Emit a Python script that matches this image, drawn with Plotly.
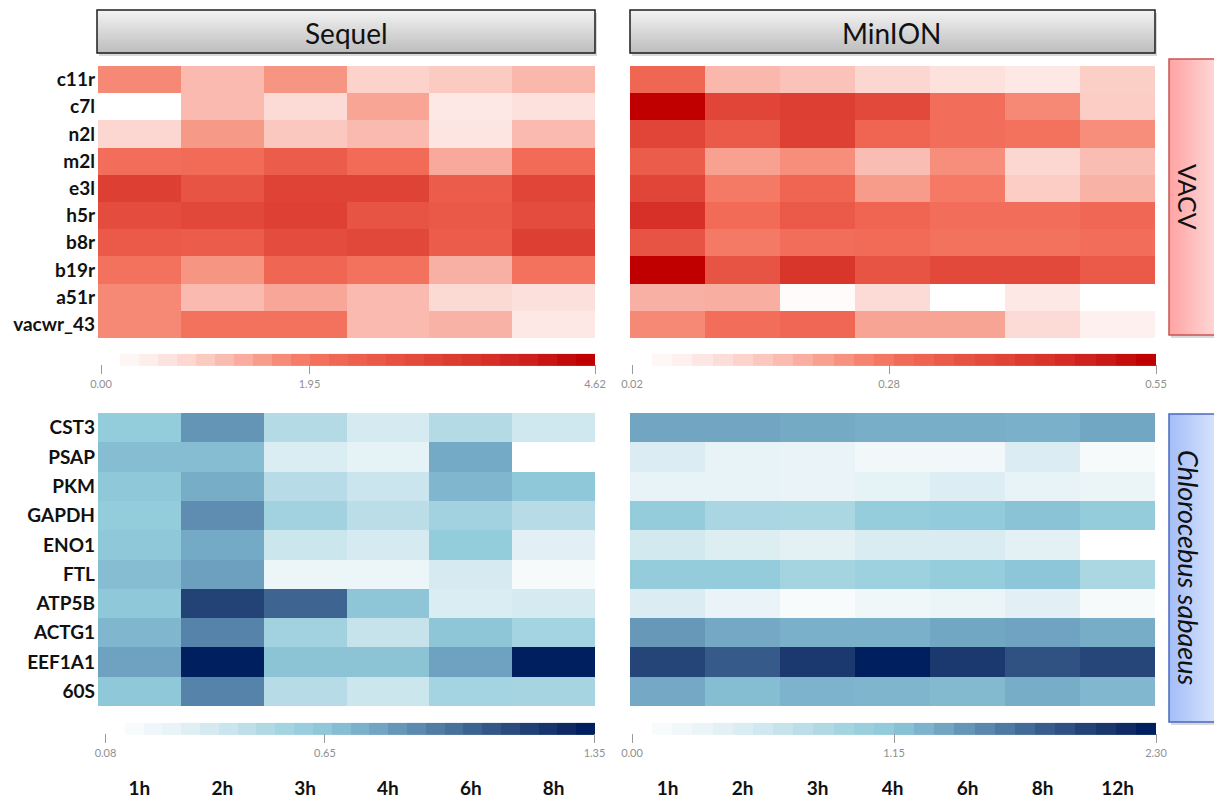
import plotly.graph_objects as go

W, H = 1214, 798

# ---------------- data ----------------
vacv_genes = ['c11r', 'c7l', 'n2l', 'm2l', 'e3l', 'h5r', 'b8r', 'b19r', 'a51r', 'vacwr_43']
host_genes = ['CST3', 'PSAP', 'PKM', 'GAPDH', 'ENO1', 'FTL', 'ATP5B', 'ACTG1', 'EEF1A1', '60S']
sequel_times = ['1h', '2h', '3h', '4h', '6h', '8h']
minion_times = ['1h', '2h', '3h', '4h', '6h', '8h', '12h']

sequel_vacv = [
    [1.68, 1.13, 1.56, 0.82, 0.92, 1.17],
    [0.00, 1.13, 0.68, 1.38, 0.47, 0.59],
    [0.76, 1.52, 0.96, 1.13, 0.51, 1.13],
    [2.06, 2.14, 2.48, 2.14, 1.33, 2.14],
    [3.29, 2.70, 3.18, 3.18, 2.48, 3.12],
    [2.91, 3.02, 3.23, 2.70, 2.59, 2.91],
    [2.56, 2.48, 2.91, 3.02, 2.48, 3.29],
    [2.00, 1.56, 2.27, 2.00, 1.25, 2.00],
    [1.68, 1.13, 1.37, 1.13, 0.70, 0.60],
    [1.68, 2.00, 2.00, 1.13, 1.23, 0.47],
]
minion_vacv = [
    [0.312, 0.176, 0.158, 0.119, 0.098, 0.082, 0.137],
    [0.550, 0.399, 0.415, 0.388, 0.291, 0.244, 0.140],
    [0.399, 0.339, 0.410, 0.315, 0.291, 0.283, 0.238],
    [0.334, 0.210, 0.238, 0.166, 0.238, 0.119, 0.166],
    [0.399, 0.270, 0.315, 0.218, 0.272, 0.140, 0.184],
    [0.453, 0.299, 0.339, 0.315, 0.291, 0.291, 0.307],
    [0.356, 0.270, 0.291, 0.299, 0.283, 0.283, 0.291],
    [0.550, 0.356, 0.442, 0.356, 0.388, 0.388, 0.339],
    [0.186, 0.189, 0.030, 0.111, 0.020, 0.082, 0.020],
    [0.244, 0.291, 0.307, 0.205, 0.205, 0.111, 0.062],
]
sequel_host = [
    [0.62, 0.85, 0.48, 0.33, 0.48, 0.36],
    [0.69, 0.69, 0.31, 0.25, 0.77, 0.08],
    [0.64, 0.76, 0.46, 0.38, 0.72, 0.64],
    [0.62, 0.88, 0.55, 0.45, 0.55, 0.46],
    [0.64, 0.77, 0.37, 0.33, 0.62, 0.27],
    [0.69, 0.81, 0.21, 0.21, 0.33, 0.14],
    [0.64, 1.18, 1.04, 0.65, 0.31, 0.33],
    [0.72, 0.92, 0.55, 0.40, 0.65, 0.54],
    [0.80, 1.35, 0.66, 0.66, 0.80, 1.35],
    [0.64, 0.92, 0.46, 0.37, 0.54, 0.53],
]
minion_host = [
    [1.38, 1.38, 1.35, 1.32, 1.32, 1.31, 1.37],
    [0.45, 0.32, 0.29, 0.18, 0.18, 0.45, 0.12],
    [0.32, 0.32, 0.29, 0.33, 0.44, 0.32, 0.28],
    [1.07, 0.89, 0.87, 1.06, 1.10, 1.17, 1.07],
    [0.54, 0.43, 0.37, 0.47, 0.48, 0.37, 0.00],
    [1.07, 1.07, 0.92, 0.98, 1.06, 1.15, 0.87],
    [0.45, 0.29, 0.09, 0.21, 0.28, 0.38, 0.12],
    [1.46, 1.36, 1.31, 1.31, 1.37, 1.39, 1.33],
    [2.01, 1.86, 2.10, 2.30, 2.10, 1.92, 2.00],
    [1.36, 1.22, 1.29, 1.27, 1.24, 1.33, 1.25],
]

sequel_vacv_ticks = [0.00, 1.95, 4.62]
minion_vacv_ticks = [0.02, 0.28, 0.55]
sequel_host_ticks = [0.08, 0.65, 1.35]
minion_host_ticks = [0.00, 1.15, 2.30]

# ---------------- colour ramps ----------------
RED_STEPS = ['#FFFFFF', '#FEF7F6', '#FDF0EE', '#FDE8E5', '#FCDFDA', '#FCD5CE', '#FBCAC1',
             '#FABDB3', '#F9B0A4', '#F8A393', '#F79583', '#F68672', '#F57A66', '#F26E5A',
             '#EF6653', '#EC5C4A', '#E85443', '#E44C3D', '#E04537', '#DC3D31', '#D8352B',
             '#D42C25', '#CF231F', '#CA1817', '#C40C0B', '#C00000']
BLUE_STEPS = ['#FFFFFF', '#F8FBFC', '#F2F8FA', '#EBF5F8', '#E3F1F5', '#DAEDF2', '#D0E8EF',
              '#C6E3EC', '#BBDEE8', '#B0D9E4', '#A5D4E1', '#9BCFDE', '#92CBDB', '#88C0D4',
              '#7DB3CC', '#71A5C2', '#6596B7', '#5987AD', '#4E79A2', '#436B97', '#385D8C',
              '#2E5082', '#234377', '#19366D', '#0F2A65', '#001F5F']


def hex2rgb(h):
    h = h.lstrip('#')
    return [int(h[i:i + 2], 16) for i in (0, 2, 4)]


def rgb2hex(c):
    return '#%02X%02X%02X' % tuple(int(round(v)) for v in c)


def panel_scale(steps, ticks):
    lo, mid, hi = ticks
    n = len(steps)
    out = []
    for i, c in enumerate(steps):
        g = i / (n - 1)
        v = lo + 2 * g * (mid - lo) if g <= 0.5 else mid + 2 * (g - 0.5) * (hi - mid)
        out.append([(v - lo) / (hi - lo), c])
    out[0][0] = 0.0
    out[-1][0] = 1.0
    return out


def color_at(scale, p):
    for (p0, c0), (p1, c1) in zip(scale[:-1], scale[1:]):
        if p <= p1:
            t = 0 if p1 == p0 else (p - p0) / (p1 - p0)
            a, b = hex2rgb(c0), hex2rgb(c1)
            return rgb2hex([a[k] + (b[k] - a[k]) * t for k in range(3)])
    return scale[-1][1]


def stepped(scale, n=26):
    out = []
    for k in range(n):
        c = color_at(scale, k / (n - 1))
        out.append([k / n, c])
        out.append([(k + 1) / n, c])
    return out


FONT = 'Lato'

fig = go.Figure()

panels = [
    # z, genes, times, ticks, steps, axis suffix, colorbar centre px (x, y), colorbar len px
    (sequel_vacv, vacv_genes, sequel_times, sequel_vacv_ticks, RED_STEPS, '', (348, 372), 494),
    (minion_vacv, vacv_genes, minion_times, minion_vacv_ticks, RED_STEPS, '2', (894, 372), 524),
    (sequel_host, host_genes, sequel_times, sequel_host_ticks, BLUE_STEPS, '3', (350, 741), 489),
    (minion_host, host_genes, minion_times, minion_host_ticks, BLUE_STEPS, '4', (894, 741), 524),
]

for z, genes, times, ticks, steps, ax, (cx, cy), clen in panels:
    cont = panel_scale(steps, ticks)
    fig.add_trace(go.Heatmap(
        z=z, x=times, y=genes, colorscale=cont, zmin=ticks[0], zmax=ticks[2],
        showscale=False, xaxis='x' + ax, yaxis='y' + ax, xgap=0, ygap=0,
    ))
    fig.add_trace(go.Scatter(
        x=[None], y=[None], mode='markers', showlegend=False, hoverinfo='skip',
        xaxis='x' + ax, yaxis='y' + ax,
        marker=dict(
            color=[ticks[0]], cmin=ticks[0], cmax=ticks[2], colorscale=stepped(cont),
            showscale=True,
            colorbar=dict(
                orientation='h', x=cx / W, xanchor='center', y=1 - cy / H, yanchor='middle',
                len=clen, lenmode='pixels', thickness=12, thicknessmode='pixels',
                outlinewidth=0, xpad=0, ypad=0,
                tickvals=ticks, ticktext=['%.2f' % t for t in ticks],
                ticks='outside', ticklen=9, tickwidth=1, tickcolor='#9a9a9a',
                tickfont=dict(family=FONT, size=11, color='#8f8f8f'),
            ),
        ),
    ))


def px_x(a, b):
    return [a / W, b / W]


def px_y(top, bottom):
    return [1 - bottom / H, 1 - top / H]


axis_common = dict(showgrid=False, zeroline=False, showline=False, ticks='', type='category')
ytick = dict(family=FONT, size=19, color='#111111', weight='bold')
xtick = dict(family=FONT, size=19, color='#111111', weight='bold')

layout_axes = dict(
    xaxis=dict(domain=px_x(98, 595), anchor='y', showticklabels=False, **axis_common),
    yaxis=dict(domain=px_y(66, 338), anchor='x', autorange='reversed', tickfont=ytick,
               ticklabelstandoff=2, **axis_common),
    xaxis2=dict(domain=px_x(630, 1155), anchor='y2', showticklabels=False, **axis_common),
    yaxis2=dict(domain=px_y(66, 338), anchor='x2', autorange='reversed', showticklabels=False,
                **axis_common),
    xaxis3=dict(domain=px_x(98, 595), anchor='y3', side='bottom', tickfont=xtick,
                ticklabelstandoff=69, **axis_common),
    yaxis3=dict(domain=px_y(413, 706), anchor='x3', autorange='reversed', tickfont=ytick,
                ticklabelstandoff=2, **axis_common),
    xaxis4=dict(domain=px_x(630, 1155), anchor='y4', side='bottom', tickfont=xtick,
                ticklabelstandoff=69, **axis_common),
    yaxis4=dict(domain=px_y(413, 706), anchor='x4', autorange='reversed', showticklabels=False,
                **axis_common),
)

shapes = []
annotations = []


def gradient_box(x0, x1, y0, y1, c_start, c_end, border, vertical, n=30, shadow=True):
    a, b = hex2rgb(c_start), hex2rgb(c_end)
    if shadow:
        shapes.append(dict(type='rect', xref='paper', yref='paper',
                           x0=(x0 + 2) / W, x1=(x1 + 2) / W, y0=1 - (y1 + 3) / H, y1=1 - (y0 + 3) / H,
                           fillcolor='rgba(0,0,0,0.15)', line=dict(width=0), layer='below'))
    for i in range(n):
        t = i / (n - 1)
        col = rgb2hex([a[k] + (b[k] - a[k]) * t for k in range(3)])
        if vertical:
            yy0 = y0 + (y1 - y0) * i / n
            yy1 = y0 + (y1 - y0) * (i + 1) / n + 0.6
            shapes.append(dict(type='rect', xref='paper', yref='paper', x0=x0 / W, x1=x1 / W,
                               y0=1 - yy1 / H, y1=1 - yy0 / H, fillcolor=col,
                               line=dict(width=0), layer='below'))
        else:
            xx0 = x0 + (x1 - x0) * i / n
            xx1 = x0 + (x1 - x0) * (i + 1) / n + 0.6
            shapes.append(dict(type='rect', xref='paper', yref='paper', x0=xx0 / W, x1=xx1 / W,
                               y0=1 - y1 / H, y1=1 - y0 / H, fillcolor=col,
                               line=dict(width=0), layer='below'))
    shapes.append(dict(type='rect', xref='paper', yref='paper', x0=x0 / W, x1=x1 / W,
                       y0=1 - y1 / H, y1=1 - y0 / H, fillcolor='rgba(0,0,0,0)',
                       line=dict(color=border, width=1.5), layer='below'))


def label(text, x, y, size, angle=0):
    annotations.append(dict(text=text, x=x / W, y=1 - y / H, xref='paper', yref='paper',
                            xanchor='center', yanchor='middle', showarrow=False,
                            textangle=angle, font=dict(family=FONT, size=size, color='#111111')))


# column headers
gradient_box(97, 595, 10, 53, '#F3F3F3', '#BDBDBD', '#1e1e1e', vertical=True)
gradient_box(630, 1155, 10, 53, '#F3F3F3', '#BDBDBD', '#1e1e1e', vertical=True)
label('Sequel', 346, 33, 28)
label('MinION', 892, 33, 28)

# row-group labels
gradient_box(1169, 1232, 59, 335, '#FFA4A4', '#FFE8E8', '#C85454', vertical=False)
gradient_box(1169, 1232, 414, 722, '#A4BEF8', '#E8EFFF', '#4A68C0', vertical=False)
label('VACV', 1188, 197, 25, 90)
label('<i>Chlorocebus sabaeus</i>', 1189, 567, 27, 90)

fig.update_layout(
    width=W, height=H, margin=dict(l=0, r=0, t=0, b=0),
    paper_bgcolor='white', plot_bgcolor='white',
    showlegend=False, shapes=shapes, annotations=annotations,
    **layout_axes,
)

fig.write_html('out.html')
